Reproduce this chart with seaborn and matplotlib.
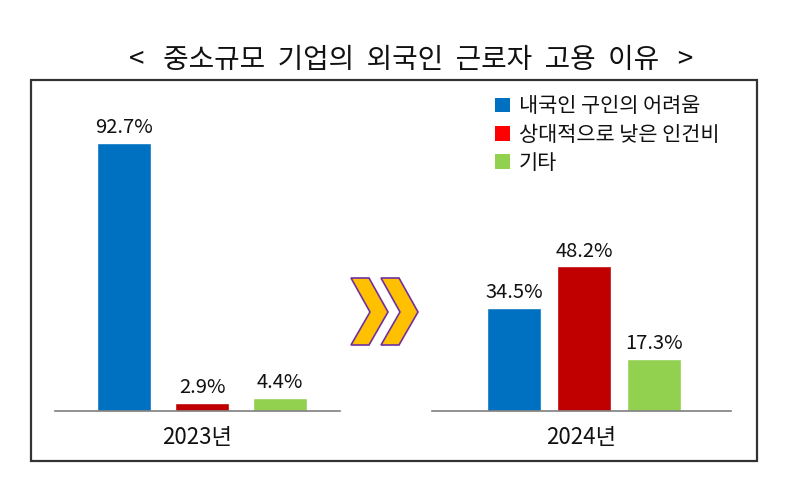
import matplotlib.pyplot as plt
import seaborn as sns
import pandas as pd
from matplotlib.patches import Polygon, Rectangle, Patch

# 데이터
reasons = ['내국인 구인의 어려움', '상대적으로 낮은 인건비', '기타']
values_2023 = [92.7, 2.9, 4.4]
values_2024 = [34.5, 48.2, 17.3]
years = ['2023년', '2024년']

bar_colors = ['#0070C0', '#C00000', '#92D050']
legend_colors = ['#0070C0', '#FF0000', '#92D050']

sns.set_style('white')
plt.rcParams['font.family'] = ['Noto Sans CJK KR', 'DejaVu Sans']

W, H = 800, 490
fig = plt.figure(figsize=(8, 4.9), dpi=100)


def px(x, y):
    # 픽셀 좌표 -> figure 좌표
    return x / W, 1 - y / H


# 바깥 테두리
fig.patches.append(Rectangle(px(31, 461), 726 / W, 381 / H, transform=fig.transFigure,
                             fill=False, edgecolor='#333333', linewidth=1.6))

# 제목
fig.text(411 / W, 1 - 60 / H, '<   중소규모  기업의  외국인  근로자  고용  이유   >',
         ha='center', va='center', fontsize=20, color='#111111')

# 두 개의 그룹 (axes 위치: 픽셀 기준)
groups = [
    (years[0], values_2023, (55, 340), 2.89, (-0.885, 2.77), 0.69),
    (years[1], values_2024, (432, 731), 3.0, (-1.171, 3.1), 0.771),
]
base_y = 411
for year, vals, (x0, x1), scale, xlim, bw in groups:
    h = 100 * scale
    ax = fig.add_axes([x0 / W, 1 - base_y / H, (x1 - x0) / W, h / H])
    df = pd.DataFrame({'reason': reasons, 'value': vals})
    sns.barplot(data=df, x='reason', y='value', hue='reason', palette=bar_colors,
                order=reasons, hue_order=reasons, width=bw, legend=False,
                saturation=1, ax=ax)
    for cont in ax.containers:
        ax.bar_label(cont, fmt='%.1f%%', padding=3.5, fontsize=14.5, color='#111111')
    ax.set_ylim(0, 100)
    ax.set_xlim(*xlim)
    ax.set_ylabel('')
    ax.set_xlabel(year, fontsize=16, color='#111111', labelpad=11)
    ax.set_yticks([])
    ax.tick_params(axis='x', length=0, labelbottom=False)
    ax.patch.set_alpha(0)
    for s in ['top', 'left', 'right']:
        ax.spines[s].set_visible(False)
    ax.spines['bottom'].set_color('#7f7f7f')
    ax.spines['bottom'].set_linewidth(1.2)

# 가운데 화살표 (>>)
for dx in [0, 30]:
    pts = [(351, 278), (369, 278), (388, 312), (369, 345), (351, 345), (370, 312)]
    poly = Polygon([px(x + dx, y) for x, y in pts], closed=True, transform=fig.transFigure,
                   facecolor='#FFC000', edgecolor='#7030A0', linewidth=1.2)
    fig.patches.append(poly)

# 범례
handles = [Patch(facecolor=c, edgecolor='none', label=r) for c, r in zip(legend_colors, reasons)]
fig.legend(handles=handles, loc='upper left', bbox_to_anchor=px(487, 87), frameon=False,
           fontsize=15, handlelength=0.72, handleheight=0.72, handletextpad=0.4,
           labelspacing=0.3, borderaxespad=0, labelcolor='#111111')

plt.savefig('out.png', dpi=100)
